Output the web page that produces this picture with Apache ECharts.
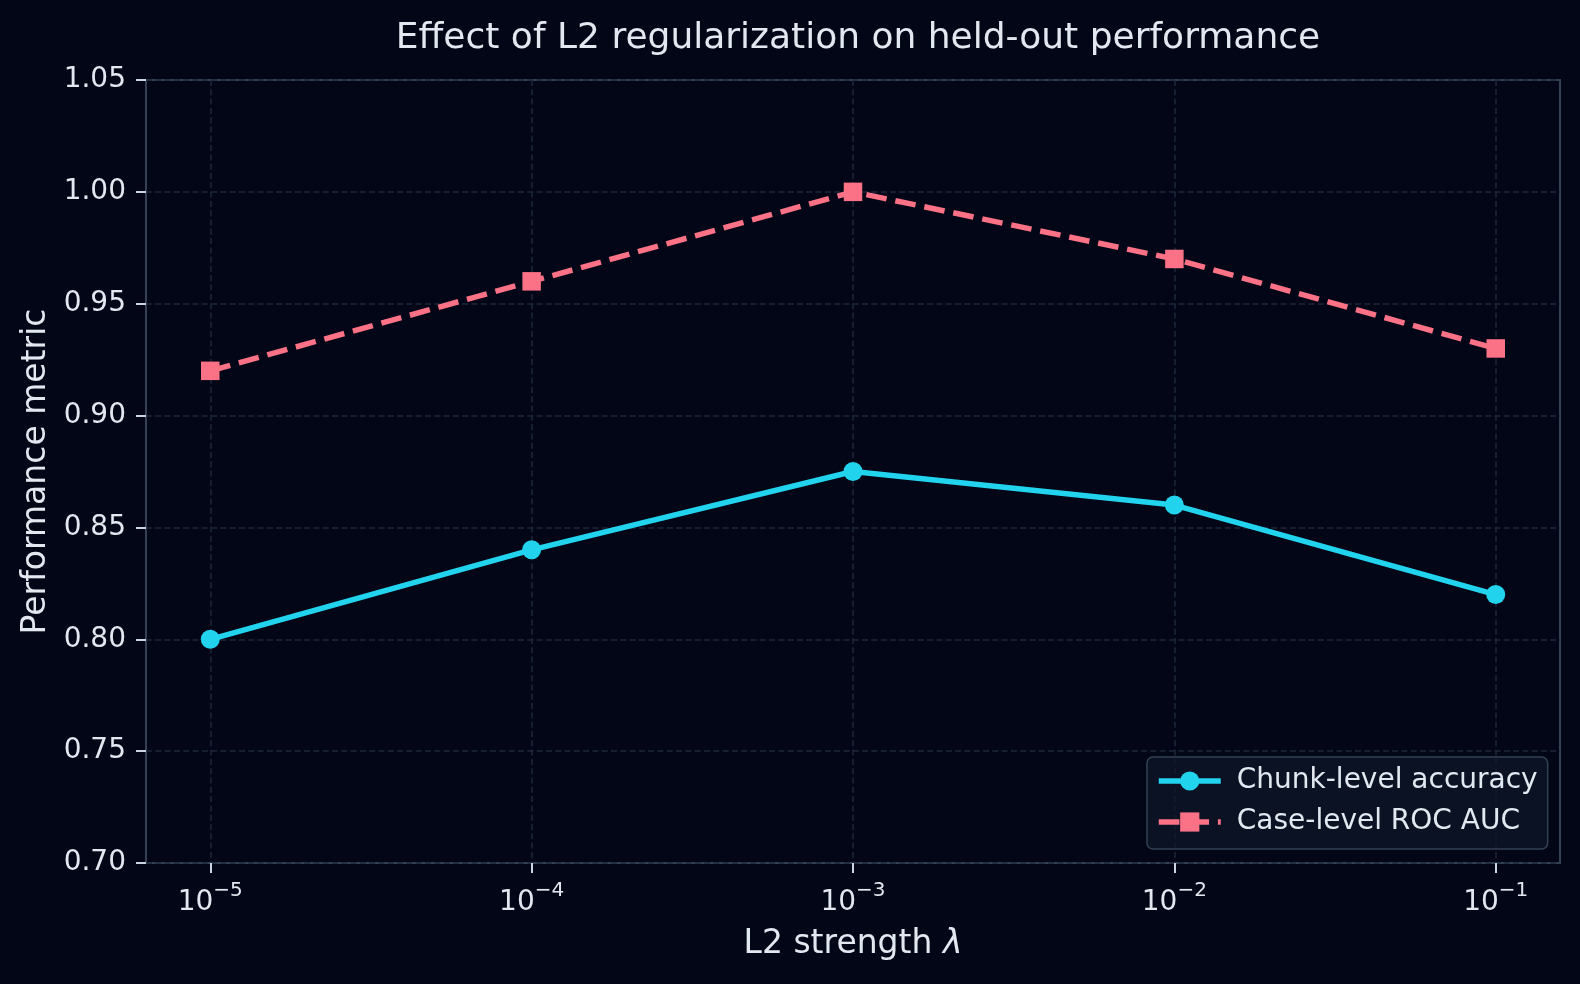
<!DOCTYPE html>
<html>
<head>
<meta charset="utf-8">
<script src="https://cdn.jsdelivr.net/npm/echarts@6/dist/echarts.min.js"></script>
<style>
  html, body { margin: 0; padding: 0; background: #020617; }
  #chart { width: 1580px; height: 984px; }
</style>
</head>
<body>
<div id="chart"></div>
<script>
const lambdaValues = [1e-5, 1e-4, 1e-3, 1e-2, 1e-1];
const chunkAccuracy = [0.80, 0.84, 0.875, 0.86, 0.82];
const caseRocAuc = [0.92, 0.96, 1.00, 0.97, 0.93];
const xTickExponents = [-5, -4, -3, -2, -1];
const seriesNames = ['Chunk-level accuracy', 'Case-level ROC AUC'];

const FONT = 'DejaVu Sans';
const TEXT = '#e2e8f0';
const FRAME = '#334155';
const GRIDC = '#1e293b';
const CYAN = '#22d3ee';
const PINK = '#fb7185';

const toXY = (vals) => lambdaValues.map((l, i) => [Math.log10(l), vals[i]]);

const chart = echarts.init(document.getElementById('chart'), null, { renderer: 'canvas' });
chart.setOption({
  animation: false,
  backgroundColor: '#020617',
  textStyle: { fontFamily: FONT },
  title: {
    text: 'Effect of L2 regularization on held-out performance',
    left: 853,
    textAlign: 'center',
    top: 16,
    textStyle: { color: TEXT, fontSize: 36, fontWeight: 'normal', fontFamily: FONT }
  },
  grid: {
    left: 146, right: 20, top: 80, bottom: 121,
    show: true, borderColor: FRAME, borderWidth: 2, backgroundColor: '#020617'
  },
  legend: {
    orient: 'vertical',
    left: 1147, top: 757,
    padding: [10, 10, 13, 9],
    itemWidth: 62, itemHeight: 24, itemGap: 13,
    backgroundColor: 'rgba(15,23,42,0.75)',
    borderColor: FRAME, borderWidth: 1.5, borderRadius: 6,
    lineStyle: { width: 5.5 },
    textStyle: { color: TEXT, fontSize: 28, fontFamily: FONT, lineHeight: 28, padding: [0, 0, 0, 11] },
    data: seriesNames
  },
  xAxis: {
    type: 'value',
    min: -5.2, max: -0.8,
    name: 'L2 strength {i|λ}',
    nameLocation: 'middle',
    nameGap: 65,
    nameTextStyle: {
      color: TEXT, fontSize: 33, fontFamily: FONT,
      rich: { i: { fontSize: 33, fontStyle: 'italic', fontFamily: FONT, color: TEXT } }
    },
    axisLine: { show: false },
    axisTick: { show: true, length: 10, customValues: xTickExponents, lineStyle: { color: '#cbd5e1', width: 2 } },
    axisLabel: {
      customValues: xTickExponents,
      margin: 18,
      color: TEXT,
      formatter: (v) => '{b|10}{s|−' + Math.abs(Math.round(v)) + '}',
      rich: {
        b: { fontSize: 28, lineHeight: 36, fontFamily: FONT, color: TEXT, verticalAlign: 'bottom' },
        s: { fontSize: 20, lineHeight: 20, fontFamily: FONT, color: TEXT, verticalAlign: 'top' }
      }
    },
    splitLine: { show: true, lineStyle: { color: GRIDC, width: 1.5, type: [6, 3.3] } }
  },
  yAxis: {
    type: 'value',
    min: 0.70, max: 1.05, interval: 0.05,
    name: 'Performance metric',
    nameLocation: 'middle',
    nameGap: 93,
    nameTextStyle: { color: TEXT, fontSize: 33, fontFamily: FONT },
    axisLine: { show: false },
    axisTick: { show: true, length: 10, lineStyle: { color: '#cbd5e1', width: 2 } },
    axisLabel: {
      color: TEXT, fontSize: 28, fontFamily: FONT, margin: 20,
      formatter: (v) => v.toFixed(2)
    },
    splitLine: { show: true, lineStyle: { color: GRIDC, width: 1.5, type: [6, 3.3] } }
  },
  series: [
    {
      name: seriesNames[0],
      type: 'line',
      data: toXY(chunkAccuracy),
      symbol: 'circle', symbolSize: 19,
      lineStyle: { color: CYAN, width: 5.5 },
      itemStyle: { color: CYAN },
      emphasis: { disabled: true },
      z: 3
    },
    {
      name: seriesNames[1],
      type: 'line',
      data: toXY(caseRocAuc),
      symbol: 'rect', symbolSize: 18.5,
      lineStyle: { color: PINK, width: 5.5, type: [20.7, 8.9] },
      itemStyle: { color: PINK },
      emphasis: { disabled: true },
      z: 3
    }
  ]
});
</script>
</body>
</html>
